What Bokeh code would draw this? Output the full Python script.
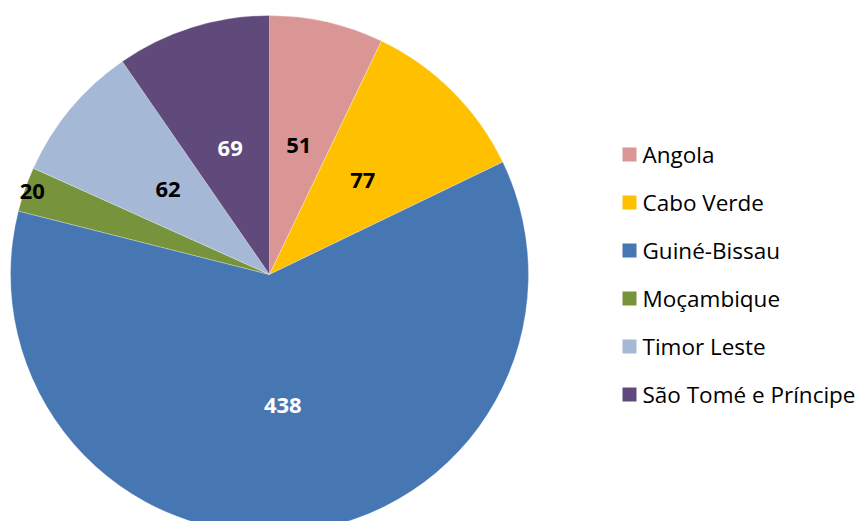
import math
from bokeh.plotting import figure
from bokeh.models import Range1d, ColumnDataSource
from bokeh.core.properties import value
from bokeh.embed import file_html
from bokeh.resources import INLINE

countries = ["Angola", "Cabo Verde", "Guiné-Bissau", "Moçambique", "Timor Leste", "São Tomé e Príncipe"]
counts = [51, 77, 438, 20, 62, 69]
colors = ["#D99694", "#FFC000", "#4677B3", "#77933C", "#A5B8D6", "#604A7B"]
label_colors = ["black", "black", "white", "black", "black", "white"]

W, H = 857, 521
p = figure(width=W, height=H, output_backend="svg", toolbar_location=None,
           x_range=Range1d(0, W), y_range=Range1d(0, H),
           min_border=0, outline_line_color=None)
p.axis.visible = False
p.grid.visible = False
p.background_fill_color = "white"
p.border_fill_color = "white"

cx, cy, r = 269, H - 274, 259
total = sum(counts)
starts, ends, lx, ly = [], [], [], []
cum = 0
for c in counts:
    a0 = math.pi / 2 - 2 * math.pi * cum / total
    a1 = math.pi / 2 - 2 * math.pi * (cum + c) / total
    starts.append(a0)
    ends.append(a1)
    mid = (a0 + a1) / 2
    f = 0.97 if c / total < 0.05 else 0.51
    lx.append(cx + f * r * math.cos(mid))
    ly.append(cy + f * r * math.sin(mid))
    cum += c

src = ColumnDataSource(dict(start=starts, end=ends, color=colors, x=lx, y=ly,
                            label=[str(c) for c in counts], lcolor=label_colors))
p.wedge(x=cx, y=cy, radius=r, start_angle="start", end_angle="end", direction="clock",
        fill_color="color", line_color="white", line_alpha=0.35, line_width=0.8, source=src)
p.text(x="x", y="y", text="label", text_color="lcolor", text_font=value("Open Sans"),
       text_font_style="bold", text_font_size="22px", text_align="center",
       text_baseline="middle", source=src)

# legend
ly0 = H - 154
leg_y = [ly0 - i * 48 for i in range(len(countries))]
leg = ColumnDataSource(dict(y=leg_y, name=countries, color=colors))
p.scatter(x=629, y="y", marker="square", size=14, fill_color="color", line_color=None, source=leg)
p.text(x=642, y="y", text="name", text_font=value("Open Sans"), text_font_size="22.5px",
       text_color="black", text_baseline="middle", text_align="left", source=leg)

open("out.html", "w").write(file_html(p, INLINE))
